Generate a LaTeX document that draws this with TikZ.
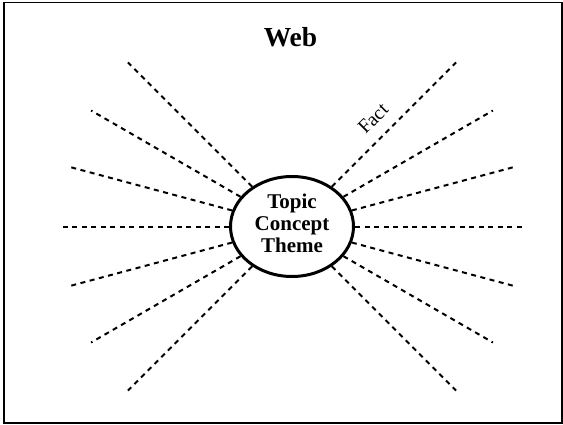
\documentclass[tikz,border=0pt]{standalone}
\usepackage{fontspec}
\setmainfont{Liberation Serif}
\usetikzlibrary{shapes.geometric}
\usetikzlibrary{calc}

\tikzset{
  hub/.style={ellipse,draw,line width=3pt,minimum width=123pt,minimum height=100pt,inner sep=0pt},
  spoke/.style={line width=2pt,dash pattern=on 5pt off 4.5pt},
  heading/.style={font=\fontsize{27.5}{30}\selectfont\bfseries},
  hubtext/.style={align=center,font=\fontsize{21}{22}\selectfont\bfseries},
  tag/.style={font=\fontsize{19.5}{21}\selectfont}
}

\begin{document}
\begin{tikzpicture}[x=1pt,y=1pt]
  \useasboundingbox (0,0) rectangle (563,424);
  % frame
  \draw[line width=1.2pt] (4,1) rectangle (562,421.2);
  \draw[line width=2.6pt] (4,0) -- (4,422);
  % title
  \node[heading,anchor=base] (title) at (290.5,377) {Web};
  % centre
  \node[hub] (topic) at (292,197.5) {};
  \node[hubtext] (words) at (292,201) {Topic\\Concept\\Theme};
  % spokes
  \foreach \a [count=\i] in {-45,-30,...,45,135,150,...,225}
    \coordinate (tip\i) at ($(topic.center)+(\a:232)$);
  \foreach \a [count=\i] in {-45,-30,...,45,135,150,...,225}
    \draw[spoke] (topic.\a) -- (tip\i);
  \path (topic.45) -- (tip7) node[tag,pos=0.44,sloped,above=9pt] (fact) {Fact};
\end{tikzpicture}
\end{document}
